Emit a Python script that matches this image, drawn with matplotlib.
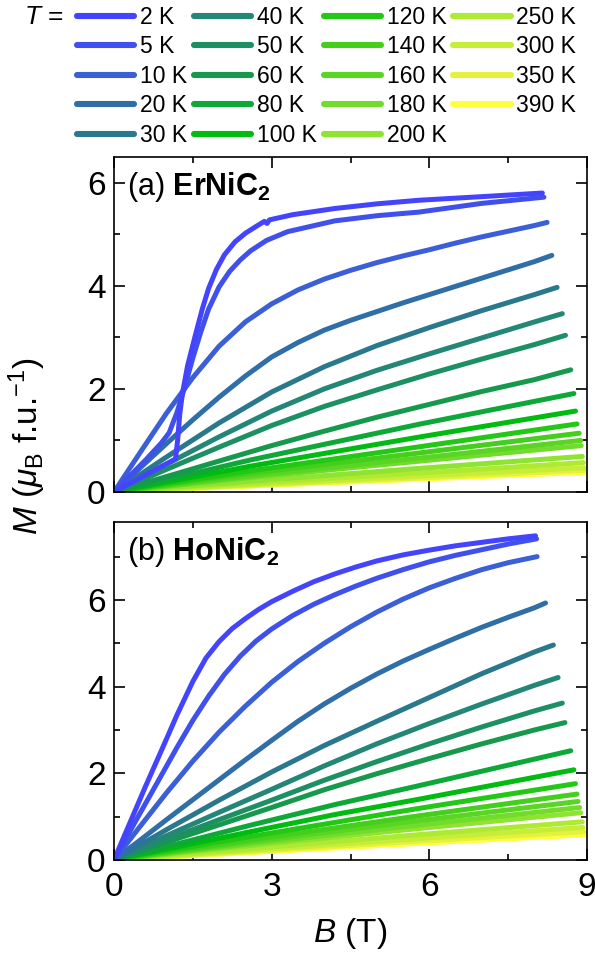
import matplotlib

matplotlib.use("Agg")

import matplotlib.pyplot as plt
from matplotlib.lines import Line2D
from matplotlib.ticker import MultipleLocator

plt.rcParams["font.family"] = ["Liberation Sans", "DejaVu Sans"]
plt.rcParams["mathtext.fontset"] = "custom"
plt.rcParams["mathtext.rm"] = "Liberation Sans"
plt.rcParams["mathtext.it"] = "Liberation Sans:italic"
plt.rcParams["mathtext.bf"] = "Liberation Sans:bold"

# temperatures and legend colours
temps = [2, 5, 10, 20, 30, 40, 50, 60, 80, 100, 120, 140, 160, 180, 200, 250, 300, 350, 390]
colors = [
    "#4444ff", "#3f50ec", "#3a5fd6", "#306ea8", "#2a788c", "#238676", "#1c9062",
    "#16994c", "#0ea838", "#00bb10", "#22c814", "#44cf1c", "#5ad524", "#72dc2c",
    "#8ee430", "#aeea32", "#c6ee38", "#e2f23e", "#ffff40",
]

# (a) ErNiC2: field points (T) and magnetisation (muB/f.u.) per temperature
er_b = [
    [0, 0.6, 1.17, 1.21, 1.25, 1.30, 1.40, 1.55, 1.68, 1.80, 1.95, 2.10, 2.30, 2.50, 2.70, 2.86, 2.91, 2.96, 3.4, 4.2, 5.0, 5.8, 7.0, 8.15],
    [0, 0.6, 0.9, 1.05, 1.2, 1.35, 1.5, 1.65, 1.8, 2.0, 2.2, 2.4, 2.6, 2.9, 3.3, 4.2, 5.0, 5.8, 7.0, 8.18],
    [0, 0.5, 1, 1.5, 2, 2.5, 3, 3.5, 4, 4.5, 5, 5.5, 6, 6.5, 7, 7.5, 8, 8.24],
    [0, 0.5, 1, 1.5, 2, 2.5, 3, 3.5, 4, 4.5, 5, 5.5, 6, 6.5, 7, 7.5, 8, 8.33],
    [0, 1, 2, 3, 4, 5, 6, 7, 8, 8.43],
    [0, 1, 2, 3, 4, 5, 6, 7, 8, 8.53],
    [0, 1, 2, 3, 4, 5, 6, 7, 8, 8.59],
    [0, 1, 2, 3, 4, 5, 6, 7, 8, 8.69],
    [0, 2.59, 5.83, 8.75],
    [0, 2.59, 5.83, 8.78],
    [0, 2.59, 5.83, 8.81],
    [0, 2.59, 5.83, 8.85],
    [0, 2.59, 5.83, 8.88],
    [0, 2.59, 5.83, 8.89],
    [0, 2.59, 5.83, 8.91],
    [0, 2.59, 5.83, 8.93],
    [0, 2.59, 5.83, 8.94],
    [0, 2.59, 5.83, 8.94],
    [0, 2.59, 5.83, 8.95],
]
er_m = [
    [0, 0.33, 0.64, 1.0, 1.5, 1.9, 2.45, 3.05, 3.55, 3.95, 4.32, 4.6, 4.85, 5.02, 5.15, 5.25, 5.21, 5.28, 5.38, 5.5, 5.59, 5.66, 5.73, 5.8],
    [0, 0.62, 0.95, 1.15, 1.55, 2.05, 2.6, 3.1, 3.55, 3.98, 4.28, 4.5, 4.68, 4.88, 5.05, 5.26, 5.36, 5.43, 5.6, 5.72],
    [0, 0.77, 1.53, 2.22, 2.83, 3.3, 3.65, 3.92, 4.13, 4.3, 4.45, 4.58, 4.7, 4.83, 4.95, 5.06, 5.17, 5.23],
    [0, 0.47, 0.94, 1.4, 1.84, 2.25, 2.62, 2.9, 3.14, 3.33, 3.5, 3.67, 3.83, 3.99, 4.15, 4.31, 4.47, 4.59],
    [0, 0.68, 1.34, 1.94, 2.43, 2.84, 3.19, 3.52, 3.83, 3.97],
    [0, 0.54, 1.07, 1.57, 2.0, 2.36, 2.68, 2.99, 3.3, 3.46],
    [0, 0.44, 0.87, 1.29, 1.66, 1.98, 2.29, 2.58, 2.86, 3.04],
    [0, 0.3, 0.6, 0.9, 1.18, 1.45, 1.7, 1.95, 2.18, 2.37],
    [0, 0.62, 1.32, 1.91],
    [0, 0.50, 1.07, 1.57],
    [0, 0.41, 0.88, 1.32],
    [0, 0.36, 0.76, 1.14],
    [0, 0.31, 0.66, 1.00],
    [0, 0.28, 0.60, 0.90],
    [0, 0.21, 0.46, 0.69],
    [0, 0.17, 0.37, 0.57],
    [0, 0.14, 0.31, 0.47],
    [0, 0.125, 0.27, 0.42],
    [0, 0.115, 0.25, 0.38],
]

# (b) HoNiC2
ho_b = [
    [0, 0.3, 0.6, 0.9, 1.2, 1.5, 1.75, 2.0, 2.25, 2.5, 2.75, 3.0, 3.4, 3.8, 4.2, 4.6, 5.0, 5.5, 6.0, 6.5, 7.0, 7.5, 8.02],
    [0, 0.45, 0.9, 1.2, 1.5, 1.8, 2.1, 2.4, 2.7, 3.0, 3.4, 3.8, 4.2, 4.6, 5.0, 5.5, 6.0, 6.5, 7.0, 7.5, 8.04],
    [0, 0.5, 1, 1.5, 2, 2.5, 3, 3.5, 4, 4.5, 5, 5.5, 6, 6.5, 7, 7.5, 8.05],
    [0, 0.5, 1, 1.5, 2, 2.5, 3, 3.5, 4, 4.5, 5, 5.5, 6, 6.5, 7, 7.5, 8, 8.21],
    [0, 1, 2, 3, 4, 5, 6, 7, 8, 8.36],
    [0, 1, 2, 3, 4, 5, 6, 7, 8, 8.45],
    [0, 1, 2, 3, 4, 5, 6, 7, 8, 8.53],
    [0, 1, 2, 3, 4, 5, 6, 7, 8, 8.58],
    [0, 2.59, 4.21, 5.75, 8.69],
    [0, 2.59, 4.21, 5.75, 8.75],
    [0, 2.59, 5.75, 8.78],
    [0, 2.59, 5.75, 8.81],
    [0, 2.59, 5.75, 8.83],
    [0, 2.59, 5.75, 8.86],
    [0, 2.59, 5.75, 8.88],
    [0, 2.59, 5.75, 8.91],
    [0, 2.59, 5.75, 8.92],
    [0, 2.59, 5.75, 8.94],
    [0, 2.59, 5.75, 8.95],
]
ho_m = [
    [0, 0.85, 1.7, 2.52, 3.35, 4.12, 4.66, 5.04, 5.34, 5.57, 5.78, 5.96, 6.2, 6.42, 6.6, 6.76, 6.9, 7.04, 7.15, 7.25, 7.33, 7.41, 7.48],
    [0, 0.98, 1.95, 2.6, 3.22, 3.78, 4.28, 4.7, 5.05, 5.33, 5.64, 5.9, 6.12, 6.32, 6.5, 6.7, 6.88, 7.03, 7.16, 7.29, 7.41],
    [0, 0.78, 1.55, 2.28, 2.95, 3.55, 4.1, 4.58, 5.0, 5.38, 5.72, 6.02, 6.28, 6.5, 6.7, 6.86, 7.0],
    [0, 0.46, 0.93, 1.39, 1.85, 2.31, 2.76, 3.2, 3.6, 3.96, 4.29, 4.59, 4.86, 5.12, 5.37, 5.6, 5.82, 5.93],
    [0, 0.7, 1.38, 2.03, 2.64, 3.2, 3.75, 4.3, 4.8, 4.96],
    [0, 0.56, 1.1, 1.63, 2.17, 2.68, 3.15, 3.6, 4.03, 4.21],
    [0, 0.47, 0.93, 1.38, 1.84, 2.27, 2.68, 3.07, 3.44, 3.62],
    [0, 0.41, 0.81, 1.21, 1.62, 1.99, 2.34, 2.68, 3.0, 3.17],
    [0, 0.8, 1.28, 1.7, 2.52],
    [0, 0.65, 1.05, 1.39, 2.08],
    [0, 0.54, 1.18, 1.76],
    [0, 0.46, 1.01, 1.52],
    [0, 0.41, 0.9, 1.35],
    [0, 0.37, 0.8, 1.21],
    [0, 0.33, 0.72, 1.09],
    [0, 0.26, 0.58, 0.88],
    [0, 0.22, 0.49, 0.75],
    [0, 0.19, 0.43, 0.65],
    [0, 0.17, 0.38, 0.58],
]

fig = plt.figure(figsize=(5.95, 9.6), dpi=100)
ax_a = fig.add_axes([0.1916, 0.4875, 0.795, 0.349])
ax_b = fig.add_axes([0.1916, 0.1042, 0.795, 0.3521])

LW = 3.6


def draw_panel(ax, bs, ms, ymax, label, compound, show_x):
    for b, m, c in reversed(list(zip(bs, ms, colors))):
        ax.plot(b, m, color=c, linewidth=LW, solid_capstyle="round", solid_joinstyle="round")
    ax.set_xlim(0, 9)
    ax.set_ylim(0, ymax)
    ax.xaxis.set_major_locator(MultipleLocator(3))
    ax.xaxis.set_minor_locator(MultipleLocator(1.5))
    ax.yaxis.set_major_locator(MultipleLocator(2))
    ax.yaxis.set_minor_locator(MultipleLocator(1))
    ax.tick_params(which="both", direction="in", top=True, right=True, width=1.2)
    ax.tick_params(which="major", length=8, labelsize=24, pad=6)
    ax.tick_params(which="minor", length=4.5)
    ax.tick_params(axis="x", pad=9)
    if not show_x:
        ax.tick_params(axis="x", labelbottom=False)
    for s in ax.spines.values():
        s.set_linewidth(1.2)
    ax.text(0.028, 0.96, label + " $\\mathbf{" + compound + "_2}$", transform=ax.transAxes,
            fontsize=22, va="top", ha="left")


draw_panel(ax_a, er_b, er_m, 6.5, "(a)", "ErNiC", False)
draw_panel(ax_b, ho_b, ho_m, 7.8, "(b)", "HoNiC", True)

ax_b.set_xlabel("$B$ (T)", fontsize=24, labelpad=9)
fig.text(0.045, 0.535, r"$M$ ($\mu_\mathrm{B}$ f.u.$^{-1}$)", rotation=90,
         fontsize=24, ha="center", va="center")

# legend at the top
handles = [Line2D([], [], color=c, linewidth=LW + 0.8, solid_capstyle="round") for c in colors]
labels = [f"{t} K" for t in temps]
fig.legend(handles, labels, ncol=4, loc="upper left", bbox_to_anchor=(0.129, 0.994),
           frameon=False, fontsize=16.5, handlelength=2.5, handletextpad=0.25,
           columnspacing=0.3, labelspacing=0.285, borderpad=0, borderaxespad=0)
fig.text(0.04, 0.982, "$T$ =", fontsize=19, ha="left", va="center")

fig.savefig("out.png", dpi=100)
